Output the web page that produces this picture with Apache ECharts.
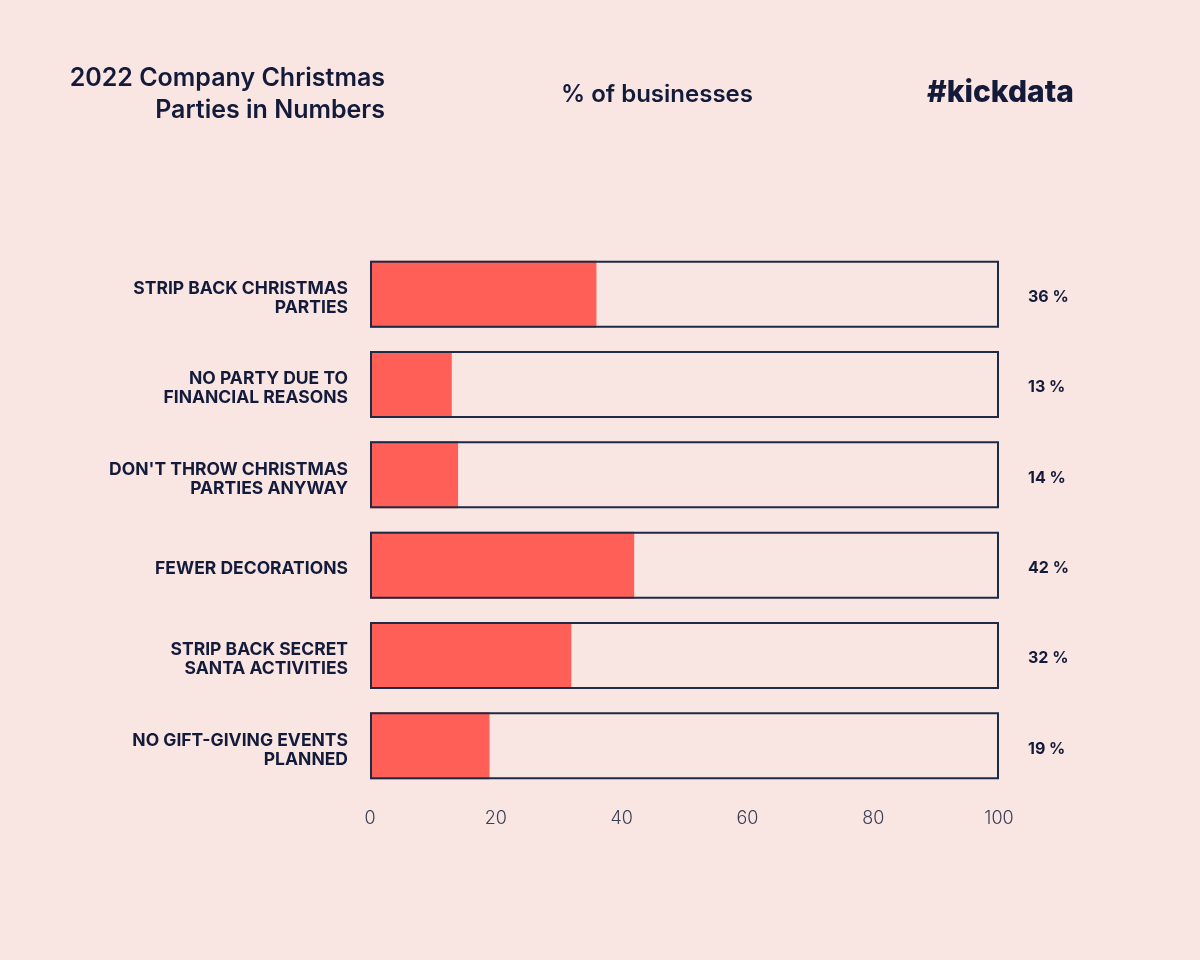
<!DOCTYPE html>
<html><head><meta charset="utf-8">
<script src="https://cdn.jsdelivr.net/npm/echarts@6/dist/echarts.min.js"></script>
<style>html,body{margin:0;padding:0;background:#f9e6e2;}#c{width:1200px;height:960px;}</style>
</head><body><div id="c"></div>
<script>
const categories = ["STRIP BACK CHRISTMAS\nPARTIES","NO PARTY DUE TO\nFINANCIAL REASONS","DON'T THROW CHRISTMAS\nPARTIES ANYWAY","FEWER DECORATIONS","STRIP BACK SECRET\nSANTA ACTIVITIES","NO GIFT-GIVING EVENTS\nPLANNED"];
const values = [36, 13, 14, 42, 32, 19];
const fullScale = [100, 100, 100, 100, 100, 100];
const xTicks = [0, 20, 40, 60, 80, 100];
const titleLines = ['2022 Company Christmas', 'Parties in Numbers'];
const subtitle = '% of businesses';
const brand = '#kickdata';

const navy = '#141b3a';
const chart = echarts.init(document.getElementById('c'));
chart.setOption({
  backgroundColor: '#f9e6e2',
  textStyle: {fontFamily: 'Inter'},
  graphic: [
    {type: 'text', x: 385, y: 78, style: {text: titleLines[0], textAlign: 'right', textVerticalAlign: 'middle',
      fontFamily: 'Inter', fontSize: 25, fontWeight: 600, fill: navy}},
    {type: 'text', x: 385, y: 110, style: {text: titleLines[1], textAlign: 'right', textVerticalAlign: 'middle',
      fontFamily: 'Inter', fontSize: 25, fontWeight: 600, fill: navy}},
    {type: 'text', x: 657, y: 95, style: {text: subtitle, textAlign: 'center', textVerticalAlign: 'middle',
      fontFamily: 'Inter', fontSize: 24, fontWeight: 600, fill: navy}},
    {type: 'text', x: 1074, y: 93, style: {text: brand, textAlign: 'right', textVerticalAlign: 'middle',
      fontFamily: 'Inter', fontSize: 30, fontWeight: 800, fill: navy}}
  ],
  grid: {left: 370, right: 201, top: 249, height: 542},
  xAxis: {
    type: 'value', min: 0, max: 100, interval: 20,
    axisLine: {show: false}, axisTick: {show: false}, splitLine: {show: false},
    axisLabel: {margin: 19, fontFamily: 'Inter', fontSize: 18, fontWeight: 300, color: '#3a3f55',
      formatter: v => xTicks.includes(v) ? String(v) : ''}
  },
  yAxis: {
    type: 'category', data: categories, inverse: true,
    axisLine: {show: false}, axisTick: {show: false},
    axisLabel: {margin: 22, align: 'right',
      formatter: v => '{s| }\n' + v.split('\n').map(l => '{a|' + l + '}').join('\n'),
      rich: {
        s: {fontSize: 1, lineHeight: 8},
        a: {fontFamily: 'Inter', fontSize: 17.5, fontWeight: 700, color: navy, lineHeight: 19, align: 'right'}
      }}
  },
  series: [
    {type: 'bar', data: values, barWidth: 67, barGap: '-100%', z: 2,
     itemStyle: {color: '#ff5f57'}, silent: true},
    {type: 'bar', data: fullScale, barWidth: 67, barGap: '-100%', z: 3,
     itemStyle: {color: 'rgba(0,0,0,0)', borderColor: '#1f2a44', borderWidth: 2},
     label: {show: true, position: 'right', distance: 29, offset: [0, 3], fontFamily: 'Inter', fontSize: 16, fontWeight: 700, color: navy,
       formatter: p => values[p.dataIndex] + ' %'},
     silent: true}
  ]
});
</script></body></html>
